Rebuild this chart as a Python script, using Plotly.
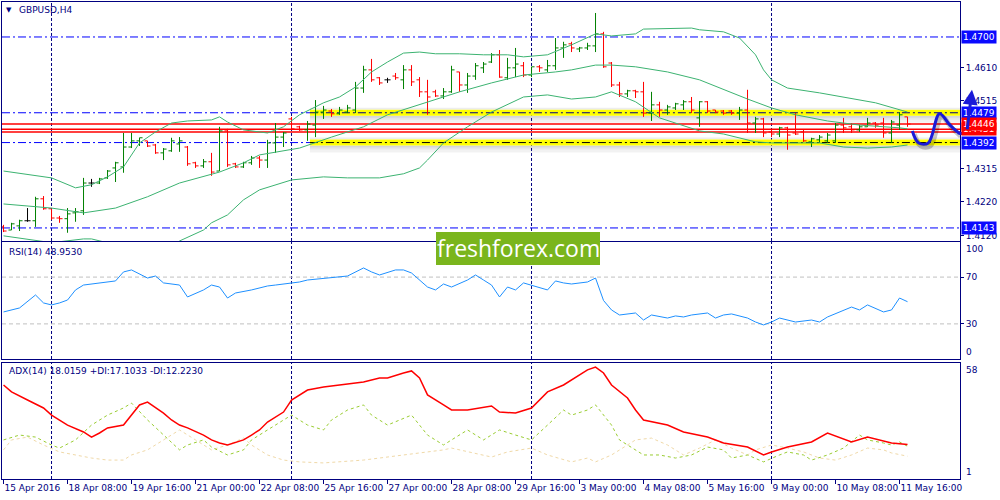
import plotly.graph_objects as go
from plotly.subplots import make_subplots

# ---------------- data ----------------
bar_index = list(range(114))

open_ = [1.4146, 1.4137, 1.4149, 1.4164, 1.4164, 1.4228, 1.4199, 1.4172, 1.4170, 1.4187,
         1.4193, 1.4274, 1.4274, 1.4289, 1.4318, 1.4321, 1.4379, 1.4397, 1.4397, 1.4385,
         1.4362, 1.4368, 1.4388, 1.4379, 1.4333, 1.4324, 1.4336, 1.4309, 1.4426, 1.4330,
         1.4321, 1.4333, 1.4347, 1.4341, 1.4391, 1.4408, 1.4461, 1.4438, 1.4429, 1.4443,
         1.4481, 1.4484, 1.4476, 1.4481, 1.4487, 1.4551, 1.4604, 1.4581, 1.4575, 1.4586,
         1.4575, 1.4604, 1.4575, 1.4540, 1.4540, 1.4528, 1.4540, 1.4598, 1.4560, 1.4586,
         1.4610, 1.4627, 1.4648, 1.4581, 1.4610, 1.4616, 1.4589, 1.4613, 1.4604, 1.4616,
         1.4668, 1.4680, 1.4665, 1.4668, 1.4674, 1.4709, 1.4624, 1.4560, 1.4534, 1.4543,
         1.4540, 1.4478, 1.4502, 1.4487, 1.4493, 1.4502, 1.4511, 1.4464, 1.4511, 1.4487,
         1.4484, 1.4484, 1.4478, 1.4487, 1.4449, 1.4461, 1.4423, 1.4417, 1.4435, 1.4420,
         1.4423, 1.4394, 1.4400, 1.4397, 1.4397, 1.4443, 1.4438, 1.4429, 1.4438, 1.4449,
         1.4449, 1.4420, 1.4443, 1.4467]
high_ = [1.4152, 1.4158, 1.4167, 1.4201, 1.4234, 1.4236, 1.4199, 1.4178, 1.4201, 1.4201,
         1.4289, 1.4286, 1.4289, 1.4312, 1.4336, 1.4420, 1.4420, 1.4406, 1.4397, 1.4388,
         1.4376, 1.4406, 1.4408, 1.4382, 1.4336, 1.4344, 1.4362, 1.4438, 1.4432, 1.4333,
         1.4336, 1.4353, 1.4353, 1.4400, 1.4449, 1.4423, 1.4467, 1.4441, 1.4455, 1.4516,
         1.4499, 1.4490, 1.4496, 1.4502, 1.4569, 1.4616, 1.4636, 1.4583, 1.4581, 1.4595,
         1.4618, 1.4618, 1.4583, 1.4575, 1.4546, 1.4551, 1.4616, 1.4598, 1.4595, 1.4624,
         1.4627, 1.4653, 1.4662, 1.4639, 1.4668, 1.4627, 1.4613, 1.4618, 1.4633, 1.4697,
         1.4686, 1.4686, 1.4671, 1.4683, 1.4770, 1.4715, 1.4627, 1.4569, 1.4546, 1.4546,
         1.4569, 1.4540, 1.4511, 1.4502, 1.4508, 1.4516, 1.4525, 1.4513, 1.4513, 1.4487,
         1.4487, 1.4487, 1.4496, 1.4546, 1.4467, 1.4464, 1.4429, 1.4438, 1.4438, 1.4478,
         1.4429, 1.4406, 1.4414, 1.4420, 1.4449, 1.4464, 1.4449, 1.4443, 1.4464, 1.4452,
         1.4464, 1.4458, 1.4481, 1.4467]
low_ = [1.4131, 1.4137, 1.4134, 1.4161, 1.4146, 1.4196, 1.4167, 1.4158, 1.4129, 1.4161,
        1.4181, 1.4263, 1.4271, 1.4286, 1.4277, 1.4304, 1.4376, 1.4382, 1.4379, 1.4359,
        1.4341, 1.4365, 1.4365, 1.4324, 1.4318, 1.4318, 1.4295, 1.4309, 1.4321, 1.4318,
        1.4318, 1.4327, 1.4318, 1.4318, 1.4362, 1.4379, 1.4429, 1.4426, 1.4397, 1.4408,
        1.4461, 1.4467, 1.4473, 1.4478, 1.4478, 1.4537, 1.4569, 1.4560, 1.4566, 1.4575,
        1.4548, 1.4557, 1.4525, 1.4473, 1.4525, 1.4519, 1.4537, 1.4540, 1.4537, 1.4575,
        1.4595, 1.4624, 1.4581, 1.4575, 1.4583, 1.4583, 1.4583, 1.4598, 1.4598, 1.4604,
        1.4639, 1.4656, 1.4656, 1.4662, 1.4656, 1.4610, 1.4554, 1.4525, 1.4525, 1.4522,
        1.4467, 1.4455, 1.4467, 1.4473, 1.4487, 1.4487, 1.4478, 1.4438, 1.4478, 1.4478,
        1.4473, 1.4473, 1.4458, 1.4420, 1.4420, 1.4408, 1.4408, 1.4408, 1.4371, 1.4414,
        1.4394, 1.4379, 1.4391, 1.4391, 1.4391, 1.4420, 1.4420, 1.4423, 1.4438, 1.4435,
        1.4406, 1.4391, 1.4429, 1.4438]
close_ = [1.4134, 1.4155, 1.4164, 1.4164, 1.4228, 1.4199, 1.4172, 1.4170, 1.4184, 1.4190,
          1.4274, 1.4274, 1.4286, 1.4309, 1.4333, 1.4379, 1.4397, 1.4406, 1.4382, 1.4362,
          1.4373, 1.4397, 1.4397, 1.4330, 1.4324, 1.4336, 1.4306, 1.4426, 1.4327, 1.4321,
          1.4333, 1.4347, 1.4341, 1.4391, 1.4408, 1.4420, 1.4432, 1.4429, 1.4446, 1.4481,
          1.4487, 1.4476, 1.4487, 1.4493, 1.4551, 1.4604, 1.4575, 1.4566, 1.4575, 1.4581,
          1.4604, 1.4569, 1.4540, 1.4525, 1.4528, 1.4540, 1.4604, 1.4560, 1.4586, 1.4616,
          1.4621, 1.4648, 1.4583, 1.4610, 1.4621, 1.4589, 1.4613, 1.4610, 1.4616, 1.4668,
          1.4677, 1.4668, 1.4668, 1.4674, 1.4709, 1.4613, 1.4560, 1.4534, 1.4543, 1.4540,
          1.4478, 1.4502, 1.4487, 1.4496, 1.4505, 1.4511, 1.4487, 1.4511, 1.4484, 1.4481,
          1.4478, 1.4478, 1.4487, 1.4449, 1.4461, 1.4420, 1.4417, 1.4435, 1.4414, 1.4417,
          1.4397, 1.4403, 1.4408, 1.4414, 1.4443, 1.4435, 1.4429, 1.4438, 1.4449, 1.4443,
          1.4420, 1.4452, 1.4473, 1.4446]

# Bollinger bands (sampled along the picture)
bb_up_bars = [0, 6, 9, 11, 13, 15, 17, 19, 21, 23, 26, 27, 28, 30, 33, 35, 37, 40, 42, 44,
              46, 48, 50, 52, 54, 57, 60, 63, 65, 68, 71, 74, 76, 79, 80, 84, 86, 87, 90, 92,
              94, 95, 96, 98, 102, 109, 113]
bb_up = [1.4309, 1.4289, 1.4260, 1.4269, 1.4292, 1.4321, 1.4391, 1.4423, 1.4449, 1.4455,
         1.4458, 1.4467, 1.4452, 1.4429, 1.4420, 1.4438, 1.4473, 1.4508, 1.4525, 1.4554,
         1.4598, 1.4627, 1.4653, 1.4656, 1.4651, 1.4651, 1.4648, 1.4648, 1.4642, 1.4648,
         1.4677, 1.4709, 1.4703, 1.4709, 1.4723, 1.4726, 1.4726, 1.4721, 1.4715, 1.4697,
         1.4648, 1.4604, 1.4575, 1.4551, 1.4537, 1.4508, 1.4481]
bb_mid_bars = [0, 6, 10, 14, 18, 22, 27, 30, 32, 37, 41, 45, 48, 52, 55, 57, 61, 65, 69, 71,
               74, 76, 79, 83, 87, 90, 93, 96, 99, 103, 107, 112, 113]
bb_mid = [1.4213, 1.4201, 1.4187, 1.4201, 1.4234, 1.4274, 1.4306, 1.4333, 1.4356, 1.4376,
          1.4408, 1.4438, 1.4473, 1.4502, 1.4525, 1.4540, 1.4566, 1.4589, 1.4598, 1.4604,
          1.4618, 1.4618, 1.4613, 1.4598, 1.4575, 1.4546, 1.4519, 1.4493, 1.4473, 1.4455,
          1.4443, 1.4435, 1.4432]
bb_lo_bars = [0, 3, 6, 10, 11, 14, 18, 22, 25, 26, 28, 30, 32, 36, 40, 43, 47, 50, 52, 53,
              55, 58, 61, 65, 68, 71, 74, 76, 79, 82, 87, 90, 94, 96, 102, 105, 108, 111, 113]
bb_lo = [1.4120, 1.4111, 1.4100, 1.4111, 1.4111, 1.4094, 1.4047, 1.4105, 1.4137, 1.4158,
         1.4181, 1.4225, 1.4254, 1.4283, 1.4292, 1.4289, 1.4289, 1.4301, 1.4318, 1.4341,
         1.4391, 1.4438, 1.4481, 1.4525, 1.4531, 1.4519, 1.4525, 1.4540, 1.4511, 1.4464,
         1.4426, 1.4417, 1.4394, 1.4391, 1.4391, 1.4379, 1.4376, 1.4379, 1.4385]

# RSI(14)
rsi_bars = [0, 1, 2, 4, 5, 6, 7, 8, 9, 10, 12, 14, 15, 16, 18, 19, 20, 22, 23, 25,
            26, 27, 28, 29, 31, 33, 34, 36, 37, 38, 41, 43, 45, 46, 47, 49, 50, 51, 53, 54,
            55, 56, 58, 59, 60, 61, 62, 63, 64, 65, 68, 69, 70, 71, 73, 74, 75, 76, 77, 79,
            80, 81, 83, 84, 85, 86, 88, 89, 90, 91, 93, 94, 95, 96, 97, 98, 99, 101, 102, 103,
            105, 106, 107, 108, 110, 111, 112, 113]
rsi_vals = [40.2, 41.9, 43.6, 54.7, 47.9, 46.2, 47.9, 50.4, 59.0, 63.2,
            65.0, 66.7, 74.4, 76.1, 69.2, 70.9, 65.0, 63.2, 53.0, 59.0,
            63.2, 61.5, 52.1, 56.4, 59.0, 62.4, 63.2, 65.0, 65.8, 67.5,
            69.2, 70.9, 77.8, 74.4, 71.8, 76.1, 76.1, 73.5, 61.5, 59.0,
            64.1, 61.5, 67.5, 71.8, 67.5, 63.2, 53.0, 61.5, 59.0, 65.0,
            59.0, 66.7, 65.0, 64.1, 65.8, 69.2, 50.0, 41.9, 37.6, 39.3,
            33.3, 37.6, 35.0, 36.8, 35.9, 37.6, 39.3, 35.0, 37.6, 38.5,
            35.0, 31.6, 29.1, 31.6, 35.0, 33.3, 31.6, 33.3, 31.6, 35.9,
            41.9, 44.4, 41.9, 46.2, 40.2, 41.9, 52.1, 48.95]
rsi_levels = [70, 30]

# ADX(14), +DI, -DI
adx_bars = [0, 1, 3, 5, 6, 7, 8, 10, 11, 12, 13, 15, 16, 17, 18, 20, 21, 22, 23, 25,
            26, 27, 28, 30, 31, 32, 33, 35, 36, 37, 38, 40, 42, 45, 47, 48, 50, 51, 52, 53,
            55, 56, 58, 61, 62, 64, 66, 67, 68, 70, 71, 72, 73, 74, 75, 76, 78, 79, 80, 83,
            85, 88, 90, 93, 95, 96, 98, 101, 103, 106, 108, 111, 113]
adx_vals = [47.2, 43.8, 39.8, 35.9, 32.4, 30.0, 27.5, 24.1, 21.6, 23.6,
            26.1, 27.5, 32.4, 37.4, 38.8, 33.4, 30.0, 27.5, 26.1, 22.6,
            20.2, 18.7, 17.7, 20.2, 22.6, 25.1, 29.0, 33.9, 39.8, 42.3,
            44.7, 46.2, 47.2, 48.7, 50.6, 50.6, 53.1, 54.1, 50.6, 42.3,
            37.4, 34.9, 34.9, 36.9, 33.9, 33.4, 35.9, 39.8, 43.8, 47.2,
            49.6, 52.1, 54.6, 56.0, 53.1, 47.2, 40.8, 34.9, 30.0, 27.5,
            24.1, 21.6, 18.7, 16.7, 12.8, 14.3, 16.7, 19.2, 23.6, 19.2,
            21.6, 18.7, 18.0]
pdi_bars = [0, 2, 4, 6, 7, 9, 11, 13, 15, 16, 18, 20, 22, 23, 25, 26, 28, 30, 31, 33,
            35, 36, 38, 40, 41, 43, 45, 46, 48, 50, 51, 53, 55, 56, 58, 60, 62, 64, 66, 68,
            70, 71, 73, 74, 76, 77, 78, 80, 82, 84, 86, 88, 90, 91, 93, 95, 97, 98, 100, 101,
            103, 105, 107, 108, 110, 111, 112, 113]
pdi_vals = [20.2, 22.6, 21.6, 17.7, 16.2, 20.2, 27.5, 32.4, 35.9, 38.3,
            30.0, 22.6, 15.3, 17.7, 20.2, 16.7, 12.8, 15.3, 20.2, 25.1,
            30.0, 32.4, 27.5, 25.1, 30.0, 34.9, 37.4, 32.4, 27.5, 31.0,
            32.4, 22.6, 17.7, 20.2, 25.1, 20.2, 25.1, 22.6, 20.2, 27.5,
            34.9, 32.4, 34.9, 37.4, 27.5, 20.2, 17.7, 12.8, 12.8, 11.3,
            12.8, 16.7, 15.3, 11.3, 12.8, 9.4, 12.8, 14.3, 12.8, 10.3,
            12.8, 16.2, 22.6, 20.2, 18.7, 17.7, 19.2, 17.1]
mdi_bars = [0, 1, 3, 5, 7, 9, 11, 13, 15, 16, 18, 20, 22, 24, 26, 28, 30, 31, 33, 35,
            37, 40, 42, 45, 47, 50, 52, 55, 56, 58, 61, 63, 66, 68, 70, 71, 73, 74, 76, 78,
            79, 81, 83, 85, 87, 89, 91, 93, 94, 96, 98, 100, 102, 104, 106, 108, 110, 111, 113]
mdi_vals = [15.3, 20.2, 21.6, 17.7, 14.3, 12.8, 11.3, 10.3, 10.3, 12.8,
            15.3, 20.2, 25.1, 20.2, 15.3, 17.7, 21.1, 17.7, 12.8, 10.3,
            9.4, 8.9, 9.4, 10.3, 11.3, 12.8, 13.8, 15.3, 16.2, 14.3,
            11.8, 14.3, 16.2, 12.8, 10.3, 9.4, 11.3, 9.4, 12.8, 17.7,
            20.2, 21.1, 17.7, 12.8, 16.2, 20.2, 16.2, 12.8, 15.3, 17.7,
            16.2, 14.3, 11.3, 10.3, 12.8, 16.2, 15.3, 13.8, 12.2]

# axis ticks / labels
x_tick_bars = [0, 8, 16, 24, 32, 40, 48, 56, 64, 72, 80, 88, 96, 104, 112]
x_tick_labels = ["15 Apr 2016", "18 Apr 08:00", "19 Apr 16:00", "21 Apr 00:00",
                 "22 Apr 08:00", "25 Apr 16:00", "27 Apr 00:00", "28 Apr 08:00",
                 "29 Apr 16:00", "3 May 00:00", "4 May 08:00", "5 May 16:00",
                 "9 May 00:00", "10 May 08:00", "11 May 16:00"]
price_ticks = [1.4120, 1.4220, 1.4315, 1.4515, 1.4610]
week_start_bars = [6, 36, 66, 96]

# horizontal objects
blue_levels = [1.4700, 1.4479, 1.4392, 1.4143]
red_levels = [1.4446, 1.4431, 1.4423]
zone_levels = [1.4479, 1.4392]
zone_line_colors = ["#000080", "#000000"]
zone_start_bar = 38.3
label_levels = [1.4700, 1.4479, 1.4431, 1.4446, 1.4392, 1.4143]
label_kinds = ["blue", "blue", "red", "red", "blue", "blue"]

# hand-drawn forecast wave (bar position, price) and its arrow (tip / tail price)
wave_bars = [113.6, 114.4, 115.6, 117.0, 118.3, 119.4]
wave_prices = [1.4426, 1.4391, 1.4391, 1.4476, 1.4443, 1.4420]
arrow_tip_price = 1.4546
arrow_tail_price = 1.4426

# ---------------- styling ----------------
NAVY = "#000080"
GREEN = "#008000"
RED = "#ff0000"
BB = "#3cb371"
WAVE = "#1a1ad8"
FONT = "DejaVu Sans"
X_RANGE = [-0.19, 119.56]
P_RANGE = [1.4105, 1.4802]
PX = (P_RANGE[1] - P_RANGE[0]) / 239.0  # price per screen pixel in price panel
DASHDOT = "8px,3px,2px,3px"


def px_x(x):
    return (x - 2) / 958.0


def px_y(y):
    return (479 - y) / 477.0


fig = make_subplots(rows=3, cols=1, shared_xaxes=True, vertical_spacing=0.0)

# ---- price bars: up / down / flat ----
groups = {"up": [], "down": [], "flat": []}
for i in bar_index:
    if close_[i] > open_[i]:
        groups["up"].append(i)
    elif close_[i] < open_[i]:
        groups["down"].append(i)
    else:
        groups["flat"].append(i)
group_colors = {"up": GREEN, "down": RED, "flat": "#000000"}
for g, idx in groups.items():
    c = group_colors[g]
    fig.add_trace(go.Ohlc(
        x=idx, open=[open_[i] for i in idx], high=[high_[i] for i in idx],
        low=[low_[i] for i in idx], close=[close_[i] for i in idx],
        increasing=dict(line=dict(color=c, width=1)),
        decreasing=dict(line=dict(color=c, width=1)),
        tickwidth=0.38, hoverinfo="skip", showlegend=False), row=1, col=1)

# Bollinger bands
for bx, by in [(bb_up_bars, bb_up), (bb_mid_bars, bb_mid), (bb_lo_bars, bb_lo)]:
    fig.add_trace(go.Scatter(x=bx, y=by, mode="lines", line=dict(color=BB, width=1),
                             hoverinfo="skip", showlegend=False), row=1, col=1)

# forecast wave (shadow + line)
fig.add_trace(go.Scatter(x=[b + 0.25 for b in wave_bars], y=[p - 3 * PX for p in wave_prices],
                         mode="lines", line=dict(color="rgba(0,0,0,0.22)", width=5, shape="spline"),
                         hoverinfo="skip", showlegend=False), row=1, col=1)
fig.add_trace(go.Scatter(x=wave_bars, y=wave_prices, mode="lines",
                         line=dict(color=WAVE, width=3, shape="spline"),
                         hoverinfo="skip", showlegend=False), row=1, col=1)

# RSI
fig.add_trace(go.Scatter(x=rsi_bars, y=rsi_vals, mode="lines", line=dict(color="#1e90ff", width=1),
                         hoverinfo="skip", showlegend=False), row=2, col=1)
# ADX / DI
fig.add_trace(go.Scatter(x=mdi_bars, y=mdi_vals, mode="lines",
                         line=dict(color="#f0d9a8", width=1, dash="dot"),
                         hoverinfo="skip", showlegend=False), row=3, col=1)
fig.add_trace(go.Scatter(x=pdi_bars, y=pdi_vals, mode="lines",
                         line=dict(color="#9acd32", width=1, dash="dot"),
                         hoverinfo="skip", showlegend=False), row=3, col=1)
fig.add_trace(go.Scatter(x=adx_bars, y=adx_vals, mode="lines", line=dict(color="#ff0000", width=1.5),
                         hoverinfo="skip", showlegend=False), row=3, col=1)

shapes = []
# weekly period separators in all panels
for xr, yr in [("x", "y domain"), ("x2", "y2 domain"), ("x3", "y3 domain")]:
    for b in week_start_bars:
        shapes.append(dict(type="line", xref=xr, yref=yr, x0=b, x1=b, y0=0, y1=1, layer="below",
                           line=dict(color=NAVY, width=1, dash="3px,2px")))
# RSI levels
for lv in rsi_levels:
    shapes.append(dict(type="line", xref="x2 domain", yref="y2", x0=0, x1=1, y0=lv, y1=lv,
                       layer="below", line=dict(color="#c0c0c0", width=1, dash="4px,3px")))
# zone shadows and yellow bands
for lv in zone_levels:
    for a, b, op in [(3, 5, 0.16), (5, 7, 0.10), (7, 10, 0.05)]:
        shapes.append(dict(type="rect", xref="x", yref="y", x0=zone_start_bar, x1=125,
                           y0=lv - b * PX, y1=lv - a * PX, layer="below", line=dict(width=0),
                           fillcolor="rgba(0,0,0,%.2f)" % op))
    for a, b, op in [(3, 5, 0.07)]:
        shapes.append(dict(type="rect", xref="x", yref="y", x0=zone_start_bar, x1=125,
                           y0=lv + a * PX, y1=lv + b * PX, layer="below", line=dict(width=0),
                           fillcolor="rgba(0,0,0,%.2f)" % op))
    shapes.append(dict(type="line", xref="x", yref="y", x0=zone_start_bar, x1=125, y0=lv, y1=lv,
                       layer="below", line=dict(color="#ffff00", width=6)))
# blue dash-dot horizontal lines
for lv in blue_levels:
    shapes.append(dict(type="line", xref="x domain", yref="y", x0=0, x1=1, y0=lv, y1=lv,
                       layer="below", line=dict(color="#0000ff", width=1, dash=DASHDOT)))
for lv, c in zip(zone_levels, zone_line_colors):
    shapes.append(dict(type="line", xref="x", yref="y", x0=zone_start_bar, x1=125, y0=lv, y1=lv,
                       layer="below", line=dict(color=c, width=1, dash=DASHDOT)))
# red horizontal lines
for lv in red_levels:
    shapes.append(dict(type="line", xref="x domain", yref="y", x0=0, x1=1, y0=lv, y1=lv,
                       layer="below", line=dict(color="#ff0000", width=1.5)))
# logo box
shapes.append(dict(type="rect", xref="paper", yref="paper", x0=px_x(436), x1=px_x(600),
                   y0=px_y(265), y1=px_y(232), line=dict(width=0), fillcolor="#7ab51d", layer="above"))
# tail of the forecast stroke, running past the plot edge towards the arrow
shapes.append(dict(type="path", xref="paper", yref="y",
                   path="M %.5f,%.5f Q %.5f,%.5f %.5f,%.5f" % (
                       px_x(958), wave_prices[-1], px_x(962), arrow_tail_price - 4 * PX,
                       px_x(967), arrow_tail_price),
                   line=dict(color=WAVE, width=3), layer="above"))

annotations = []
annotations.append(dict(text="freshforex.com", xref="paper", yref="paper", x=px_x(518), y=px_y(248),
                        showarrow=False, font=dict(family="Open Sans", size=23, color="white"),
                        xanchor="center", yanchor="middle"))
annotations.append(dict(text="\u25bc", xref="paper", yref="paper", x=px_x(4), y=px_y(10),
                        showarrow=False, font=dict(family=FONT, size=7, color=NAVY),
                        xanchor="left", yanchor="middle"))
for txt, x, y in [("GBPUSD,H4", 17, 10), ("RSI(14) 48.9530", 7, 252),
                  ("ADX(14) 18.0159 +DI:17.1033 -DI:12.2230", 7, 371)]:
    annotations.append(dict(text=txt, xref="paper", yref="paper", x=px_x(x), y=px_y(y),
                            showarrow=False, font=dict(family=FONT, size=9, color=NAVY),
                            xanchor="left", yanchor="middle"))
# boxed price labels on the right axis
for lv, kind in zip(label_levels, label_kinds):
    annotations.append(dict(text="%.4f" % lv, xref="x domain", yref="y", x=1, y=lv, xshift=1,
                            showarrow=False, xanchor="left", yanchor="middle",
                            bgcolor="#0a0aff" if kind == "blue" else "#ff0000", borderpad=1,
                            font=dict(family=FONT, size=9, color="white")))
# edge labels of the indicator scales
for txt, yr, val, anc in [("100", "y2", 100, "top"), ("0", "y2", 0, "bottom"),
                          ("58", "y3", 58, "top"), ("1", "y3", 1, "bottom")]:
    annotations.append(dict(text=txt, xref="x domain", yref=yr, x=1, y=val, xshift=4,
                            showarrow=False, xanchor="left", yanchor=anc,
                            font=dict(family=FONT, size=9, color=NAVY)))
# arrow of the forecast (drawn past the right edge of the plot)
annotations.append(dict(x=px_x(972), y=arrow_tip_price, xref="paper", yref="y",
                        ax=-5, ay=(arrow_tip_price - arrow_tail_price) / PX,
                        showarrow=True, arrowhead=2, arrowsize=1, arrowwidth=3,
                        arrowcolor=WAVE, text=""))

fig.update_layout(
    width=1000, height=500, margin=dict(l=2, r=40, t=2, b=21, autoexpand=False),
    paper_bgcolor="white", plot_bgcolor="white", showlegend=False,
    font=dict(family=FONT, size=9, color=NAVY),
    shapes=shapes, annotations=annotations,
)
axis_common = dict(showline=True, mirror=True, linecolor=NAVY, linewidth=1, showgrid=False,
                   zeroline=False, automargin=False)
fig.update_xaxes(range=X_RANGE, rangeslider_visible=False, **axis_common)
fig.update_xaxes(showticklabels=False, ticks="", row=1, col=1)
fig.update_xaxes(showticklabels=False, ticks="", row=2, col=1)
fig.update_xaxes(tickvals=x_tick_bars, ticktext=x_tick_labels, ticks="outside", ticklen=4,
                 tickcolor=NAVY, ticklabelposition="outside right", showticklabels=True,
                 tickangle=0, tickfont=dict(family=FONT, size=9, color=NAVY), row=3, col=1)
fig.update_layout(
    yaxis=dict(domain=[0.499, 1.0], range=P_RANGE, side="right", tickvals=price_ticks,
               ticktext=["%.4f" % v for v in price_ticks], ticks="outside", ticklen=3,
               tickcolor=NAVY, tickfont=dict(family=FONT, size=9, color=NAVY), **axis_common),
    yaxis2=dict(domain=[0.2516, 0.4969], range=[0, 100], side="right", tickvals=rsi_levels,
                ticktext=[str(v) for v in rsi_levels], ticks="outside", ticklen=3, tickcolor=NAVY,
                tickfont=dict(family=FONT, size=9, color=NAVY), **axis_common),
    yaxis3=dict(domain=[0.0, 0.2432], range=[1, 58], side="right", tickvals=[],
                **axis_common),
)

fig.write_html("out.html", config={"displayModeBar": False},
               post_script="document.body.style.margin='0';document.body.style.overflow='hidden';")
